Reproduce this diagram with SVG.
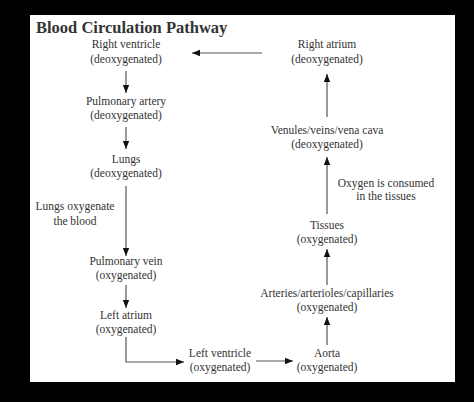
<svg xmlns="http://www.w3.org/2000/svg" width="474" height="402" viewBox="0 0 474 402">
<defs>
<marker id="ah" markerWidth="8" markerHeight="8" refX="8" refY="4" orient="auto" markerUnits="userSpaceOnUse">
<path d="M0,0.8 L8,4 L0,7.2 Z" fill="#111"/>
</marker>
<style>
.t{font-family:"Liberation Serif","Times New Roman",serif;font-size:11.5px;fill:#333;text-anchor:middle}
.title{font-family:"Liberation Serif","Times New Roman",serif;font-size:16.5px;font-weight:bold;fill:#333}
.c{stroke:#555;stroke-width:1.2;fill:none;marker-end:url(#ah)}
</style>
</defs>
<rect x="0" y="0" width="474" height="402" fill="#000"/>
<rect x="30" y="15" width="425" height="367" fill="#fff"/>
<text class="title" x="36" y="33">Blood Circulation Pathway</text>
<g id="right-ventricle"><text class="t" x="126" y="48">Right ventricle</text><text class="t" x="126" y="63">(deoxygenated)</text></g>
<g id="pulmonary-artery"><text class="t" x="126" y="105">Pulmonary artery</text><text class="t" x="126" y="119">(deoxygenated)</text></g>
<g id="lungs"><text class="t" x="126" y="163">Lungs</text><text class="t" x="126" y="177">(deoxygenated)</text></g>
<g id="lungs-note"><text class="t" x="75" y="210">Lungs oxygenate</text><text class="t" x="75" y="225">the blood</text></g>
<g id="pulmonary-vein"><text class="t" x="126" y="265">Pulmonary vein</text><text class="t" x="126" y="279">(oxygenated)</text></g>
<g id="left-atrium"><text class="t" x="126" y="319">Left atrium</text><text class="t" x="126" y="333">(oxygenated)</text></g>
<g id="left-ventricle"><text class="t" x="220" y="357">Left ventricle</text><text class="t" x="220" y="371">(oxygenated)</text></g>
<g id="aorta"><text class="t" x="327" y="357">Aorta</text><text class="t" x="327" y="371">(oxygenated)</text></g>
<g id="arteries"><text class="t" x="327" y="297">Arteries/arterioles/capillaries</text><text class="t" x="327" y="311">(oxygenated)</text></g>
<g id="tissues"><text class="t" x="327" y="229">Tissues</text><text class="t" x="327" y="243">(oxygenated)</text></g>
<g id="oxygen-note"><text class="t" x="386" y="187">Oxygen is consumed</text><text class="t" x="386" y="200">in the tissues</text></g>
<g id="venules"><text class="t" x="327" y="134">Venules/veins/vena cava</text><text class="t" x="327" y="148">(deoxygenated)</text></g>
<g id="right-atrium"><text class="t" x="327" y="48">Right atrium</text><text class="t" x="327" y="63">(deoxygenated)</text></g>
<g id="connectors">
<line class="c" x1="126" y1="71" x2="126" y2="93"/>
<line class="c" x1="126" y1="127" x2="126" y2="149"/>
<line class="c" x1="126" y1="186" x2="126" y2="256"/>
<line class="c" x1="126" y1="285" x2="126" y2="308"/>
<polyline class="c" points="126,337 126,362 184,362"/>
<line class="c" x1="256" y1="361" x2="293" y2="361"/>
<line class="c" x1="327" y1="345" x2="327" y2="317"/>
<line class="c" x1="327" y1="285" x2="327" y2="249"/>
<line class="c" x1="327" y1="214" x2="327" y2="157"/>
<line class="c" x1="327" y1="117" x2="327" y2="74"/>
<line class="c" x1="262" y1="53" x2="192" y2="53"/>
</g>
</svg>
